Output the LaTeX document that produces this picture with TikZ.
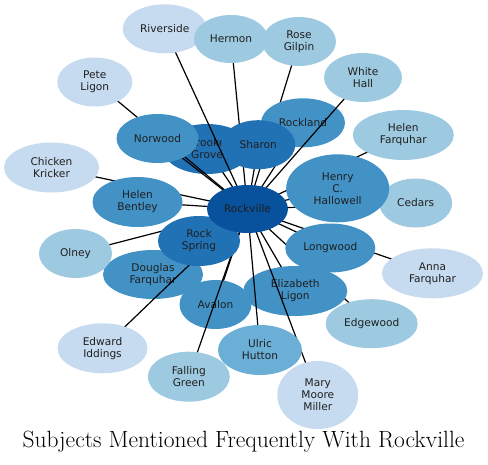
\documentclass[tikz,border=0pt]{standalone}
\usepackage{fontspec}
\newfontfamily\nodefont{DejaVu Sans}
\usetikzlibrary{shapes.geometric}
\definecolor{cA}{HTML}{08519C}
\definecolor{cB}{HTML}{2171B5}
\definecolor{cC}{HTML}{4292C6}
\definecolor{cD}{HTML}{6BAED6}
\definecolor{cE}{HTML}{9ECAE1}
\definecolor{cF}{HTML}{C6DBEF}
\begin{document}
\begin{tikzpicture}[x=1pt,y=-1pt,
  nd/.style={ellipse, inner sep=0pt, align=center, text=black!88,
    font=\nodefont\fontsize{10.6}{12}\selectfont},
  sz/.style 2 args={minimum width=#1pt, minimum height=#2pt},
  ed/.style={line width=1.2pt, black}]
\useasboundingbox (0,0) rectangle (488,464);

% positions of the node centres
\coordinate (rv) at (247.5,209);
\coordinate (bg) at (207,149);
\coordinate (df) at (153,274.5);
\coordinate (av) at (215.5,304.5);
\coordinate (el) at (295.3,291);
\coordinate (rs) at (164.7,28.8);
\coordinate (he) at (231,39);
\coordinate (rg) at (299,41.5);
\coordinate (wh) at (363,77.5);
\coordinate (pl) at (94.8,82);
\coordinate (ck) at (51.5,167.5);
\coordinate (hf) at (403.3,135);
\coordinate (ce) at (415.7,203);
\coordinate (af) at (432.5,273.3);
\coordinate (eg) at (371.7,323.7);
\coordinate (ei) at (102.5,348.3);
\coordinate (fg) at (188.8,376.7);
\coordinate (mm) at (317.8,395);
\coordinate (ol) at (75.5,253.5);
\coordinate (rl) at (303,122.8);
\coordinate (nw) at (157.5,138.5);
\coordinate (hb) at (137.5,202);
\coordinate (hh) at (337.7,188.3);
\coordinate (lw) at (330.3,248);
\coordinate (uh) at (260,350);
\coordinate (rsp) at (199,241);
\coordinate (sh) at (258.3,144.7);

% each connector, then its node, in drawing order
\draw[ed] (rv) -- (eg);
\node[nd, fill=cE, sz={92}{49}] (egN) at (eg) {Edgewood};
\draw[ed] (rv) -- (el);
\node[nd, fill=cC, sz={104}{50}] (elN) at (el) {Elizabeth\\Ligon};
\draw[ed] (rv) -- (mm);
\node[nd, fill=cF, sz={81}{68}] (mmN) at (mm) {Mary\\Moore\\Miller};
\draw[ed] (rv) -- (uh);
\node[nd, fill=cD, sz={84}{50}] (uhN) at (uh) {Ulric\\Hutton};
\draw[ed] (rv) -- (af);
\node[nd, fill=cF, sz={101}{50}] (afN) at (af) {Anna\\Farquhar};
\draw[ed] (rv) -- (lw);
\node[nd, fill=cC, sz={90}{49}] (lwN) at (lw) {Longwood};
\draw[ed] (rv) -- (av);
\node[nd, fill=cC, sz={72}{49}] (avN) at (av) {Avalon};
\draw[ed] (rv) -- (fg);
\node[nd, fill=cE, sz={82}{50}] (fgN) at (fg) {Falling\\Green};
\draw[ed] (rv) -- (df);
\node[nd, fill=cC, sz={100}{49}] (dfN) at (df) {Douglas\\Farquhar};
\draw[ed] (rv) -- (ei);
\node[nd, fill=cF, sz={90}{50}] (eiN) at (ei) {Edward\\Iddings};
\draw[ed] (rv) -- (ol);
\node[nd, fill=cE, sz={73}{49}] (olN) at (ol) {Olney};
\draw[ed] (rv) -- (rsp);
\node[nd, fill=cB, sz={82}{50}] (rspN) at (rsp) {Rock\\Spring};
\draw[ed] (rv) -- (bg);
\node[nd, fill=cB, sz={88}{50}] (bgN) at (bg) {Brooke\\Grove};
\draw[ed] (rv) -- (rs);
\node[nd, fill=cF, sz={84}{49}] (rsN) at (rs) {Riverside};
\draw[ed] (rv) -- (he);
\node[nd, fill=cE, sz={74}{48}] (heN) at (he) {Hermon};
\draw[ed] (rv) -- (pl);
\node[nd, fill=cF, sz={75}{49}] (plN) at (pl) {Pete\\Ligon};
\draw[ed] (rv) -- (nw);
\node[nd, fill=cC, sz={82}{49}] (nwN) at (nw) {Norwood};
\draw[ed] (rv) -- (rg);
\node[nd, fill=cE, sz={74}{49}] (rgN) at (rg) {Rose\\Gilpin};
\draw[ed] (rv) -- (rl);
\node[nd, fill=cC, sz={84}{49}] (rlN) at (rl) {Rockland};
\draw[ed] (rv) -- (wh);
\node[nd, fill=cE, sz={78}{49}] (whN) at (wh) {White\\Hall};
\draw[ed] (rv) -- (sh);
\node[nd, fill=cB, sz={74}{49}] (shN) at (sh) {Sharon};
\draw[ed] (rv) -- (ck);
\node[nd, fill=cF, sz={95}{50}] (ckN) at (ck) {Chicken\\Kricker};
\draw[ed] (rv) -- (hb);
\node[nd, fill=cC, sz={90}{50}] (hbN) at (hb) {Helen\\Bentley};
\draw[ed] (rv) -- (hf);
\node[nd, fill=cE, sz={101}{50}] (hfN) at (hf) {Helen\\Farquhar};
\draw[ed] (rv) -- (ce);
\node[nd, fill=cE, sz={73}{49}] (ceN) at (ce) {Cedars};
\draw[ed] (rv) -- (hh);
\node[nd, fill=cC, sz={103}{68}] (hhN) at (hh) {Henry\\C.\\Hallowell};
\node[nd, fill=cA, sz={81}{48}] (rvN) at (rv) {Rockville};

\node[anchor=base, inner sep=0pt, font=\fontsize{23.5}{26}\selectfont] (title) at (243.5,447.5) {Subjects Mentioned Frequently With Rockville};
\end{tikzpicture}
\end{document}
